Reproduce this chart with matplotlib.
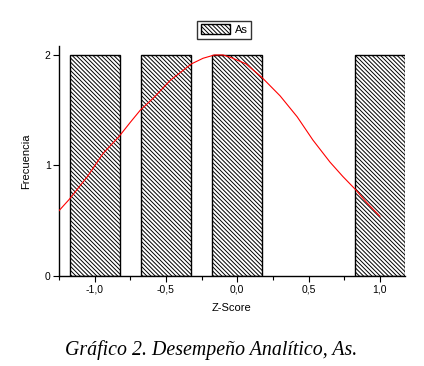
import matplotlib.pyplot as plt
from matplotlib.ticker import MultipleLocator, FuncFormatter

plt.rcParams['hatch.linewidth'] = 0.7

# Histograma de Z-Score (As)
bin_centers = [-1.0, -0.5, 0.0, 0.5, 1.0]
counts = [2, 2, 2, 0, 2]

# Curva normal ajustada
curve_x = [-1.25, -1.18, -1.05, -0.94, -0.83, -0.75, -0.68, -0.58, -0.47, -0.32,
           -0.24, -0.16, -0.10, -0.05, 0.06, 0.17, 0.30, 0.42, 0.53, 0.65,
           0.74, 0.83, 0.91, 1.0]
curve_y = [0.59, 0.69, 0.90, 1.11, 1.26, 1.39, 1.50, 1.62, 1.77, 1.92,
           1.97, 2.0, 2.0, 1.98, 1.92, 1.80, 1.63, 1.44, 1.23, 1.03,
           0.90, 0.78, 0.66, 0.54]

fig = plt.figure(figsize=(4.24, 3.66), dpi=100)
ax = fig.add_axes([0.139, 0.246, 0.816, 0.628])

edges = ['black' if c > 0 else 'none' for c in counts]
ax.bar(bin_centers, counts, width=0.35, color='white', edgecolor=edges,
       linewidth=1.0, hatch='\\' * 8, label='As', zorder=2)
ax.plot(curve_x, curve_y, color='red', linewidth=0.8, zorder=3)

ax.set_xlim(-1.25, 1.175)
ax.set_ylim(0, 2.08)

for s in ['top', 'right']:
    ax.spines[s].set_visible(False)
for s in ['left', 'bottom']:
    ax.spines[s].set_linewidth(1.0)

ax.xaxis.set_major_locator(MultipleLocator(0.5))
ax.xaxis.set_minor_locator(MultipleLocator(0.25))
ax.yaxis.set_major_locator(MultipleLocator(1))
ax.xaxis.set_major_formatter(FuncFormatter(lambda v, p: f'{v:.1f}'.replace('.', ',').replace('-0,0', '0,0')))
ax.tick_params(axis='both', which='major', length=4, width=0.8, labelsize=7.5, pad=2)
ax.tick_params(axis='x', which='minor', length=3, width=0.8)
for lab in ax.get_xticklabels() + ax.get_yticklabels():
    lab.set_family('Liberation Sans')

ax.set_xlabel('Z-Score', fontsize=8, family='Liberation Sans', labelpad=6)
ax.set_ylabel('Frecuencia', fontsize=8, family='Liberation Sans', labelpad=10)

leg = fig.legend(loc='center', bbox_to_anchor=(0.529, 0.919),
                 frameon=True, fancybox=False, edgecolor='black',
                 handlelength=2.6, handleheight=0.9, handletextpad=0.4,
                 borderpad=0.35, prop={'family': 'Liberation Sans', 'size': 8})
leg.get_frame().set_linewidth(1.0)

fig.text(0.497, 0.044, 'Gráfico 2. Desempeño Analítico, As.', ha='center', va='center',
         fontsize=14.3, family='Liberation Serif', style='italic')

fig.savefig('out.png', dpi=100)
